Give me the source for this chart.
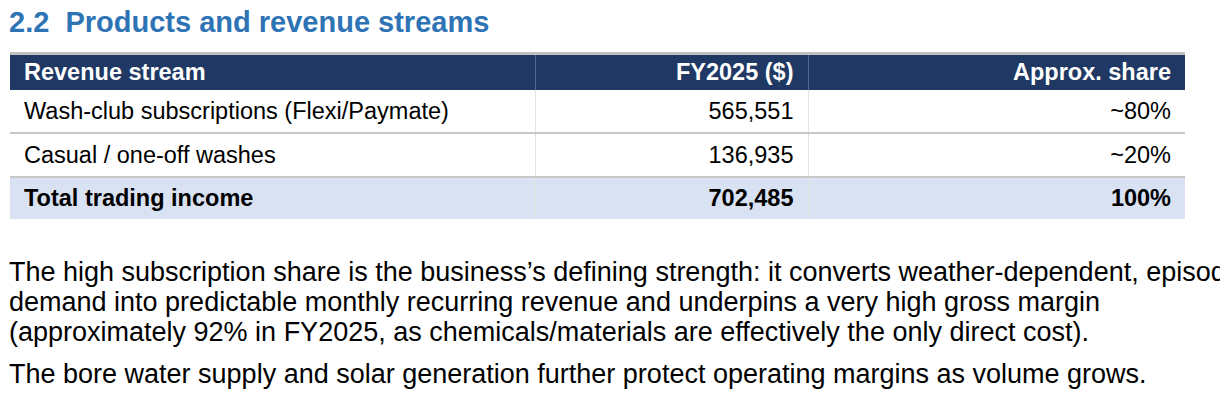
<!DOCTYPE html>
<html><head><meta charset="utf-8">
<script src="https://cdn.jsdelivr.net/npm/chart.js@4/dist/chart.umd.min.js"></script>
<style>
body{margin:0;background:#fff;font-family:"Liberation Sans",Arial,sans-serif;color:#000;width:1220px;height:414px;overflow:hidden}
h2{position:absolute;left:9px;top:5px;margin:0;font-size:29px;line-height:34px;font-weight:bold;color:#2E74B5}
table{position:absolute;left:10px;top:52px;width:1175px;border-collapse:collapse;font-size:23.5px;border-top:3px solid #bfbfbf}
th{background:#1F3864;color:#fff;font-weight:bold;height:35px;padding:0 14px}
td{height:42px;padding:0 14px}
tr.b td{border-bottom:2px solid #c8c8c8}
tr.t td{background:#D9E2F3;font-weight:bold;height:41px}
th+th,td+td{border-left:1px solid #e4e4e4}
th+th{border-left:1px solid #55688c}
.l{text-align:left}.r{text-align:right}
col.a{width:525px}col.b{width:273px}
p{position:absolute;left:9px;margin:0;font-size:27px;line-height:30px;white-space:nowrap}
</style></head><body>
<h2>2.2&nbsp; Products and revenue streams</h2>
<table id="tb"><colgroup><col class="a"><col class="b"><col></colgroup><thead></thead><tbody></tbody></table>
<p style="top:257px">The high subscription share is the business’s defining strength: it converts weather-dependent, episodic<br>demand into predictable monthly recurring revenue and underpins a very high gross margin<br>(approximately 92% in FY2025, as chemicals/materials are effectively the only direct cost).</p>
<p style="top:359px">The bore water supply and solar generation further protect operating margins as volume grows.</p>
<script>
const headers=["Revenue stream","FY2025 ($)","Approx. share"];
const streams=["Wash-club subscriptions (Flexi/Paymate)","Casual / one-off washes","Total trading income"];
const values=[565551,136935,702485];
const shares=["~80%","~20%","100%"];
const tb=document.getElementById('tb');
tb.tHead.innerHTML='<tr>'+headers.map((h,i)=>`<th class="${i?'r':'l'}">${h}</th>`).join('')+'</tr>';
tb.tBodies[0].innerHTML=streams.map((s,i)=>`<tr class="${i==streams.length-1?'t':'b'}"><td class="l">${s}</td><td class="r">${values[i].toLocaleString('en-US')}</td><td class="r">${shares[i]}</td></tr>`).join('');
</script>
</body></html>
